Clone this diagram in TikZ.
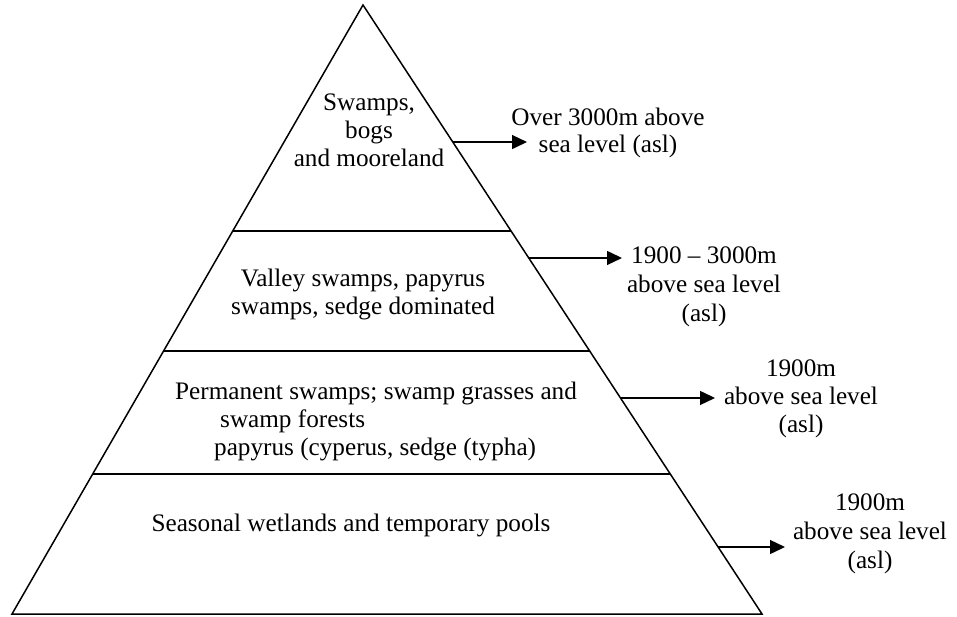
\documentclass[tikz,border=0pt]{standalone}
\usepackage{fontspec}
\setmainfont{Liberation Serif}
\usetikzlibrary{arrows.meta,calc}
\begin{document}
\begin{tikzpicture}[x=1pt,y=-1pt,
  edge/.style={line width=1.5pt},
  arr/.style={line width=1.4pt,-{Triangle[length=15pt,width=14pt]}},
  lbl/.style={inner sep=0pt,align=center,font=\fontsize{25.2}{28}\selectfont},
]
\useasboundingbox (0,0) rectangle (957,617);
\coordinate (A) at (363,5);
\coordinate (BL) at (12,614);
\coordinate (BR) at (762,614);
\draw[edge,line join=miter] (A) -- (BL) -- (BR) -- cycle;
% level lines
\coordinate (L1) at ($(A)!0.3711!(BL)$);
\coordinate (R1) at ($(A)!0.3711!(BR)$);
\coordinate (L2) at ($(A)!0.5681!(BL)$);
\coordinate (R2) at ($(A)!0.5681!(BR)$);
\coordinate (L3) at ($(A)!0.7701!(BL)$);
\coordinate (R3) at ($(A)!0.7701!(BR)$);
\draw[edge] (L1) -- (R1);
\draw[edge] (L2) -- (R2);
\draw[edge] (L3) -- (R3);
% arrow starts
\coordinate (S1) at ($(A)!0.2250!(BR)$);
\coordinate (S2) at ($(A)!0.4154!(BR)$);
\coordinate (S3) at ($(A)!0.6453!(BR)$);
\coordinate (S4) at ($(A)!0.8900!(BR)$);
\coordinate (E1) at (527,142);
\coordinate (E2) at (622,258);
\coordinate (E3) at (715,398);
\coordinate (E4) at (785,547);
\draw[arr] (S1) -- (E1 |- S1);
\draw[arr] (S2) -- (E2 |- S2);
\draw[arr] (S3) -- (E3 |- S3);
\draw[arr] (S4) -- (E4 |- S4);
% texts inside
\node[lbl] (t1) at (369,130) {Swamps,\\bogs\\and mooreland};
\node[lbl] (t2) at (363,294) {Valley swamps, papyrus\\swamps, sedge dominated};
\node[lbl,anchor=west] (t3a) at (175,393) {Permanent swamps; swamp grasses and};
\node[lbl,anchor=west] (t3b) at (220,421) {swamp forests};
\node[lbl,anchor=west] (t3c) at (214,449) {papyrus (cyperus, sedge (typha)};
\node[lbl] (t4) at (351,525) {Seasonal wetlands and temporary pools};
% texts outside
\node[lbl,font=\fontsize{25.2}{26.5}\selectfont] (o1) at (608,133) {Over 3000m above\\sea level (asl)};
\node[lbl,font=\fontsize{25.2}{29}\selectfont] (o2) at (704,287) {1900 -- 3000m\\above sea level\\(asl)};
\node[lbl] (o3) at (801,399) {1900m\\above sea level\\(asl)};
\node[lbl,font=\fontsize{25.2}{29}\selectfont] (o4) at (870,534) {1900m\\above sea level\\(asl)};
\end{tikzpicture}
\end{document}
